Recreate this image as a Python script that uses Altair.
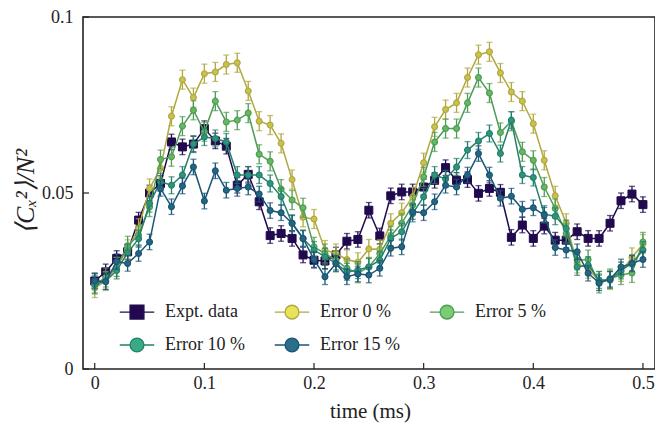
import altair as alt
import pandas as pd

FONT = "Liberation Serif"
INK = "#222222"

time_ms = [0.00, 0.01, 0.02, 0.03, 0.04, 0.05, 0.06, 0.07, 0.08, 0.09,
           0.10, 0.11, 0.12, 0.13, 0.14, 0.15, 0.16, 0.17, 0.18, 0.19,
           0.20, 0.21, 0.22, 0.23, 0.24, 0.25, 0.26, 0.27, 0.28, 0.29,
           0.30, 0.31, 0.32, 0.33, 0.34, 0.35, 0.36, 0.37, 0.38, 0.39,
           0.40, 0.41, 0.42, 0.43, 0.44, 0.45, 0.46, 0.47, 0.48, 0.49,
           0.50]

series_names = ["Expt. data", "Error 0 %", "Error 5 %", "Error 10 %", "Error 15 %"]

expt = [0.0250, 0.0276, 0.0314, 0.0333, 0.0423, 0.0500, 0.0527, 0.0645, 0.0631, 0.0639,
        0.0683, 0.0648, 0.0633, 0.0522, 0.0553, 0.0475, 0.0379, 0.0385, 0.0371, 0.0324,
        0.0309, 0.0307, 0.0324, 0.0363, 0.0368, 0.0451, 0.0378, 0.0492, 0.0503, 0.0503,
        0.0517, 0.0536, 0.0572, 0.0536, 0.0538, 0.0499, 0.0513, 0.0502, 0.0374, 0.0409,
        0.0371, 0.0406, 0.0366, 0.0366, 0.0390, 0.0371, 0.0371, 0.0414, 0.0478, 0.0497,
        0.0467]

err0 = [0.0230, 0.0250, 0.0290, 0.0340, 0.0400, 0.0513, 0.0570, 0.0718, 0.0822, 0.0771,
        0.0839, 0.0844, 0.0865, 0.0870, 0.0790, 0.0704, 0.0693, 0.0641, 0.0538, 0.0431,
        0.0426, 0.0338, 0.0328, 0.0311, 0.0303, 0.0341, 0.0340, 0.0414, 0.0444, 0.0489,
        0.0586, 0.0688, 0.0737, 0.0756, 0.0828, 0.0893, 0.0901, 0.0841, 0.0787, 0.0761,
        0.0697, 0.0593, 0.0492, 0.0414, 0.0300, 0.0285, 0.0250, 0.0253, 0.0276, 0.0317,
        0.0355]

err5 = [0.0240, 0.0260, 0.0290, 0.0350, 0.0380, 0.0460, 0.0595, 0.0603, 0.0690, 0.0735,
        0.0674, 0.0761, 0.0702, 0.0707, 0.0727, 0.0610, 0.0590, 0.0511, 0.0480, 0.0458,
        0.0347, 0.0328, 0.0309, 0.0286, 0.0272, 0.0290, 0.0328, 0.0378, 0.0414, 0.0466,
        0.0546, 0.0645, 0.0683, 0.0683, 0.0756, 0.0828, 0.0784, 0.0672, 0.0704, 0.0617,
        0.0593, 0.0517, 0.0456, 0.0385, 0.0309, 0.0311, 0.0243, 0.0257, 0.0267, 0.0273,
        0.0361]

err10 = [0.0240, 0.0250, 0.0280, 0.0330, 0.0370, 0.0470, 0.0532, 0.0522, 0.0551, 0.0639,
         0.0659, 0.0655, 0.0645, 0.0551, 0.0551, 0.0551, 0.0527, 0.0490, 0.0414, 0.0371,
         0.0338, 0.0319, 0.0300, 0.0276, 0.0281, 0.0290, 0.0309, 0.0371, 0.0390, 0.0442,
         0.0489, 0.0551, 0.0540, 0.0574, 0.0622, 0.0648, 0.0669, 0.0612, 0.0707, 0.0551,
         0.0544, 0.0440, 0.0434, 0.0399, 0.0290, 0.0295, 0.0253, 0.0253, 0.0280, 0.0300,
         0.0338]

err15 = [0.0250, 0.0248, 0.0305, 0.0300, 0.0328, 0.0361, 0.0513, 0.0461, 0.0520, 0.0574,
         0.0477, 0.0563, 0.0508, 0.0513, 0.0517, 0.0497, 0.0450, 0.0444, 0.0414, 0.0371,
         0.0311, 0.0262, 0.0300, 0.0262, 0.0270, 0.0267, 0.0286, 0.0343, 0.0347, 0.0447,
         0.0444, 0.0475, 0.0522, 0.0517, 0.0551, 0.0612, 0.0551, 0.0485, 0.0491, 0.0454,
         0.0458, 0.0437, 0.0345, 0.0338, 0.0333, 0.0272, 0.0245, 0.0255, 0.0290, 0.0300,
         0.0311]

# half-width of the error bars of each series
err_half = [0.0022, 0.0027, 0.0027, 0.0024, 0.0022]

x_ticks = [0, 0.1, 0.2, 0.3, 0.4, 0.5]
y_ticks = [0, 0.05, 0.1]

line_colors = ["#1f0c4e", "#b0a840", "#4e9c55", "#23806c", "#1b5675"]
marker_fill_colors = ["#22094f", "#c9c24e", "#66b862", "#2f957a", "#246582"]
legend_fill_colors = ["#22094f", "#e8e35a", "#7bcd74", "#3aaa86", "#2a6e8c"]

all_values = [expt, err0, err5, err10, err15]

W, H = 572, 352

xscale = alt.Scale(domain=[-0.0107, 0.511], nice=False, zero=False)
yscale = alt.Scale(domain=[0, 0.1], nice=False, zero=False)

xaxis = alt.Axis(values=x_ticks, format="~g", ticks=False, domain=False, grid=False,
                 labelFont=FONT, labelFontSize=18, labelColor=INK, labelPadding=5,
                 labelFlush=False,
                 titleFont=FONT, titleFontSize=21, titleFontWeight="normal", titleColor=INK,
                 titleX=287, titleY=42, titleBaseline="middle", titleAlign="center")
yaxis = alt.Axis(values=y_ticks, format="~g", ticks=False, domain=False, grid=False,
                 labelFont=FONT, labelFontSize=18, labelColor=INK, labelPadding=10,
                 labelFlush=False,
                 titleFont=FONT, titleFontSize=26, titleFontWeight="normal", titleColor=INK,
                 titleFontStyle="italic", titleAngle=270,
                 titleX=-58, titleY=174, titleBaseline="middle", titleAlign="center")

XT = "time (ms)"
YT = "⟨Cₓ²⟩/N²"


def X(field):
    return alt.X(field, type="quantitative", scale=xscale, axis=xaxis, title=XT)


def Y(field):
    return alt.Y(field, type="quantitative", scale=yscale, axis=yaxis, title=YT)


layers = []
for k, name in enumerate(series_names):
    vals = all_values[k]
    e = err_half[k]
    df = pd.DataFrame({
        "t": time_ms,
        "v": vals,
        "lo": [v - e for v in vals],
        "hi": [v + e for v in vals],
    })
    lc = line_colors[k]
    fc = marker_fill_colors[k]
    base = alt.Chart(df)
    bars = base.mark_rule(color=lc, strokeWidth=1.3).encode(x=X("t"), y=Y("lo"), y2="hi:Q")
    cap_lo = base.mark_tick(color=lc, orient="horizontal", size=6, thickness=1.3).encode(x=X("t"), y=Y("lo"))
    cap_hi = base.mark_tick(color=lc, orient="horizontal", size=6, thickness=1.3).encode(x=X("t"), y=Y("hi"))
    line = base.mark_line(color=lc, strokeWidth=1.5).encode(x=X("t"), y=Y("v"))
    if k == 0:
        pts = base.mark_point(shape="square", filled=True, fill=fc, stroke=lc, strokeWidth=1,
                              size=64, opacity=1).encode(x=X("t"), y=Y("v"))
    else:
        pts = base.mark_point(shape="circle", filled=True, fill=fc, stroke=lc, strokeWidth=1.2,
                              size=34, opacity=1).encode(x=X("t"), y=Y("v"))
    layers += [bars, cap_lo, cap_hi, line, pts]

# inward axis ticks
xt = alt.Chart(pd.DataFrame({"t": x_ticks})).mark_rule(color=INK, strokeWidth=1.2).encode(
    x=X("t"), y=alt.value(H), y2=alt.value(H - 6))
yt = alt.Chart(pd.DataFrame({"v": y_ticks})).mark_rule(color=INK, strokeWidth=1.2).encode(
    y=Y("v"), x=alt.value(0), x2=alt.value(6))
layers += [xt, yt]

# legend (line through marker symbols)
sq_path = "M-2.5,0H-1M1,0H2.5M-1,-1H1V1H-1Z"
ci_path = "M-2.5,0H-1M1,0H2.5M1,0A1,1,0,1,1,-1,0A1,1,0,1,1,1,0Z"
leg = alt.Legend(orient="none", legendX=45, legendY=286, columns=3, direction="horizontal",
                 title=None,
                 labelFont=FONT, labelFontSize=18, labelColor=INK, labelOffset=19,
                 symbolSize=190, symbolStrokeWidth=1.4, symbolOpacity=1,
                 columnPadding=26, rowPadding=13, gridAlign="all", padding=0)
leg_df = pd.DataFrame({"series": series_names})
legend_layer = alt.Chart(leg_df).mark_point(filled=True, opacity=0).encode(
    fill=alt.Fill("series:N", scale=alt.Scale(domain=series_names, range=legend_fill_colors), legend=leg),
    stroke=alt.Stroke("series:N", scale=alt.Scale(domain=series_names, range=line_colors), legend=leg),
    shape=alt.Shape("series:N", scale=alt.Scale(domain=series_names,
                                                range=[sq_path, ci_path, ci_path, ci_path, ci_path]),
                    legend=leg),
)
layers.append(legend_layer)

chart = alt.layer(*layers).properties(
    width=W, height=H,
    autosize="none",
    padding={"left": 75, "top": 9, "right": 0, "bottom": 55},
    background="white",
).configure_view(stroke=INK, strokeWidth=1.6)

chart.save("out.html", embed_options={"renderer": "svg", "actions": False})
